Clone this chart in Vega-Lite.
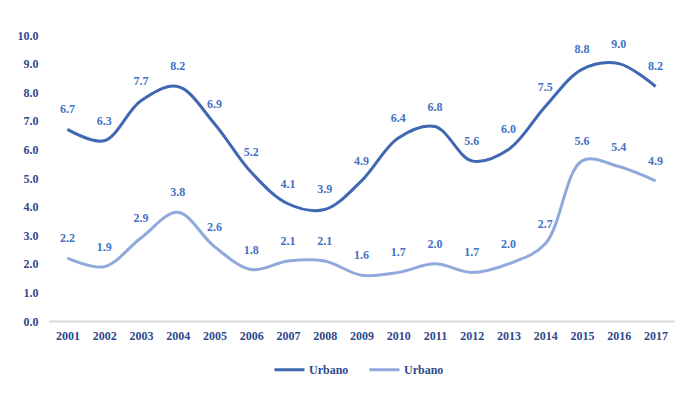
{
  "$schema": "https://vega.github.io/schema/vega-lite/v6.json",
  "width": 625,
  "height": 286,
  "autosize": "none",
  "padding": {"left": 49, "top": 35, "right": 14, "bottom": 85},
  "background": "white",
  "config": {
    "view": {"stroke": null},
    "font": "Liberation Serif"
  },
  "data": {
    "values": [
      {"year": "2001", "series": "A", "value": 6.7},
      {"year": "2002", "series": "A", "value": 6.3},
      {"year": "2003", "series": "A", "value": 7.7},
      {"year": "2004", "series": "A", "value": 8.2},
      {"year": "2005", "series": "A", "value": 6.9},
      {"year": "2006", "series": "A", "value": 5.2},
      {"year": "2007", "series": "A", "value": 4.1},
      {"year": "2008", "series": "A", "value": 3.9},
      {"year": "2009", "series": "A", "value": 4.9},
      {"year": "2010", "series": "A", "value": 6.4},
      {"year": "2011", "series": "A", "value": 6.8},
      {"year": "2012", "series": "A", "value": 5.6},
      {"year": "2013", "series": "A", "value": 6.0},
      {"year": "2014", "series": "A", "value": 7.5},
      {"year": "2015", "series": "A", "value": 8.8},
      {"year": "2016", "series": "A", "value": 9.0},
      {"year": "2017", "series": "A", "value": 8.2},
      {"year": "2001", "series": "B", "value": 2.2},
      {"year": "2002", "series": "B", "value": 1.9},
      {"year": "2003", "series": "B", "value": 2.9},
      {"year": "2004", "series": "B", "value": 3.8},
      {"year": "2005", "series": "B", "value": 2.6},
      {"year": "2006", "series": "B", "value": 1.8},
      {"year": "2007", "series": "B", "value": 2.1},
      {"year": "2008", "series": "B", "value": 2.1},
      {"year": "2009", "series": "B", "value": 1.6},
      {"year": "2010", "series": "B", "value": 1.7},
      {"year": "2011", "series": "B", "value": 2.0},
      {"year": "2012", "series": "B", "value": 1.7},
      {"year": "2013", "series": "B", "value": 2.0},
      {"year": "2014", "series": "B", "value": 2.7},
      {"year": "2015", "series": "B", "value": 5.6},
      {"year": "2016", "series": "B", "value": 5.4},
      {"year": "2017", "series": "B", "value": 4.9}
    ]
  },
  "encoding": {
    "x": {
      "field": "year",
      "type": "ordinal",
      "scale": {"paddingInner": 0, "paddingOuter": 0.5},
      "axis": {
        "title": null,
        "labelAngle": 0,
        "labelFont": "Liberation Serif",
        "labelFontWeight": "bold",
        "labelFontSize": 12,
        "labelColor": "#2F4A8C",
        "labelPadding": 9,
        "ticks": false,
        "domainColor": "#D9D9D9",
        "domainWidth": 2
      }
    },
    "y": {
      "field": "value",
      "type": "quantitative",
      "scale": {"domain": [0, 10]},
      "axis": {
        "title": null,
        "values": [0, 1, 2, 3, 4, 5, 6, 7, 8, 9, 10],
        "format": ".1f",
        "grid": false,
        "domain": false,
        "ticks": false,
        "labelFont": "Liberation Serif",
        "labelFontWeight": "bold",
        "labelFontSize": 12,
        "labelColor": "#2F4A8C",
        "labelPadding": 11
      }
    }
  },
  "layer": [
    {
      "mark": {"type": "line", "interpolate": "catmull-rom", "strokeWidth": 3},
      "encoding": {
        "color": {
          "field": "series",
          "type": "nominal",
          "scale": {"domain": ["A", "B"], "range": ["#4068B2", "#8FA9DC"]},
          "legend": {
            "title": null,
            "orient": "none",
            "legendX": 224,
            "legendY": 318,
            "direction": "horizontal",
            "symbolType": "stroke",
            "symbolSize": 900,
            "symbolStrokeWidth": 3,
            "labelExpr": "'Urbano'",
            "labelFont": "Liberation Serif",
            "labelFontWeight": "bold",
            "labelFontSize": 12,
            "labelColor": "#2F4A8C",
            "labelOffset": 3,
            "columnPadding": 14
          }
        }
      }
    },
    {
      "mark": {
        "type": "text",
        "dy": -20,
        "font": "Liberation Serif",
        "fontWeight": "bold",
        "fontSize": 12,
        "color": "#4472C4"
      },
      "encoding": {
        "text": {"field": "value", "type": "quantitative", "format": ".1f"},
        "detail": {"field": "series"}
      }
    }
  ]
}
